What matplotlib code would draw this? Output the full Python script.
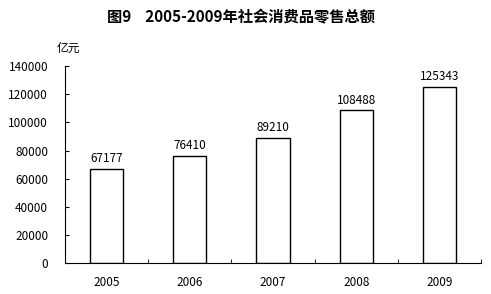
import matplotlib
matplotlib.use("Agg")
import matplotlib.pyplot as plt

plt.rcParams['font.family'] = ['Noto Sans CJK SC', 'DejaVu Sans']

years = ['2005', '2006', '2007', '2008', '2009']
sales = [67177, 76410, 89210, 108488, 125343]
yticks = [0, 20000, 40000, 60000, 80000, 100000, 120000, 140000]

fig = plt.figure(figsize=(4.91, 2.94), dpi=100)
ax = fig.add_axes([0.132, 0.105, 0.848, 0.670])

x = range(len(years))
ax.bar(x, sales, width=0.4, color='white', edgecolor='black', linewidth=1.0)
for i, v in enumerate(sales):
    ax.text(i, v + 2500, str(v), ha='center', va='bottom', fontsize=8.5)

ax.set_xlim(-0.5, len(years) - 0.5)
ax.set_ylim(0, 140000)
ax.set_yticks(yticks)
ax.set_yticklabels([str(t) for t in yticks], fontsize=8.5)
ax.set_xticks(list(x))
ax.set_xticklabels(years, fontsize=8.5)
ax.tick_params(axis='x', length=0, pad=9)
ax.set_xticks([i + 0.5 for i in x], minor=True)
ax.tick_params(axis='x', which='minor', direction='in', length=3)
ax.tick_params(axis='y', direction='in', length=3, pad=12)

for s in ['top', 'right']:
    ax.spines[s].set_visible(False)

fig.text(0.49, 0.94, '图9    2005-2009年社会消费品零售总额', ha='center', va='center',
         fontsize=11, fontweight='bold')
fig.text(0.14, 0.835, '亿元', ha='center', va='center', fontsize=8.5)

fig.savefig('out.png', dpi=100)
